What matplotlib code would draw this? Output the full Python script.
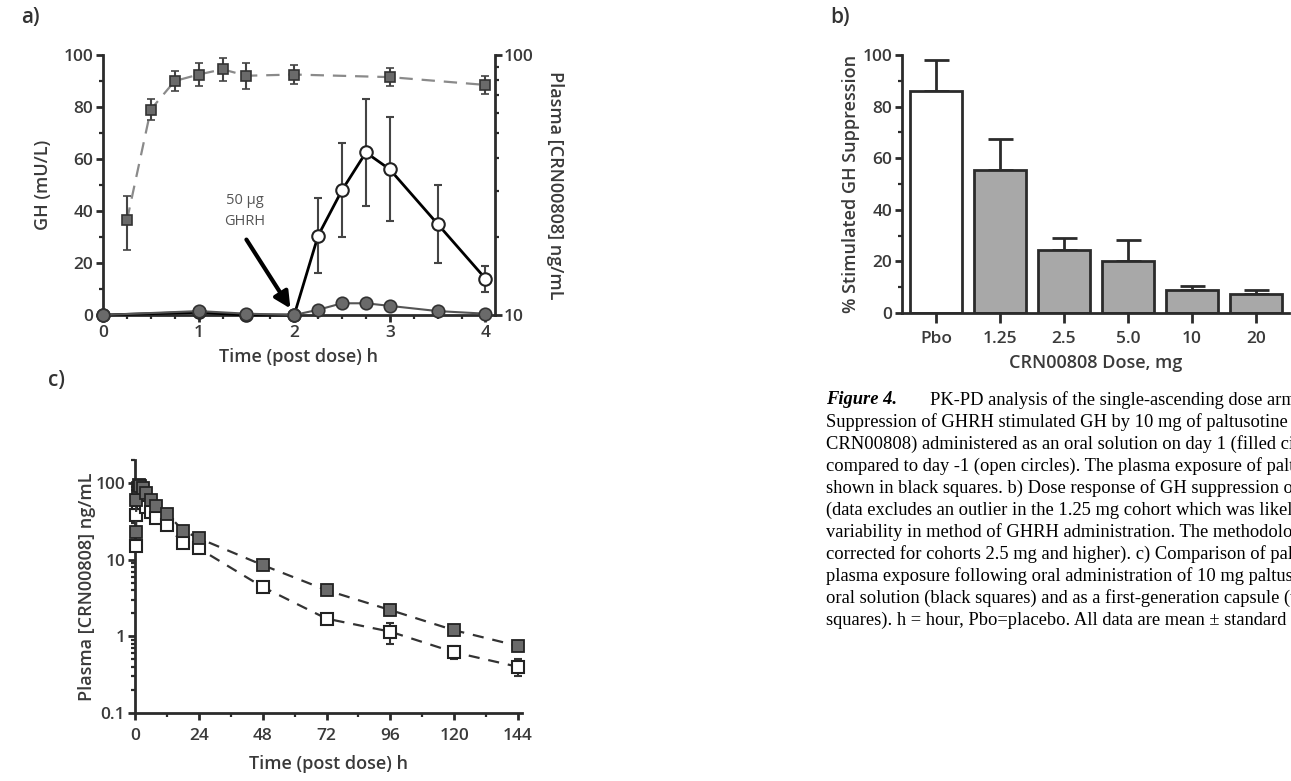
import numpy as np
import matplotlib
matplotlib.use('Agg')
import matplotlib.pyplot as plt
from matplotlib.ticker import MultipleLocator, LogLocator, NullFormatter

plt.rcParams['font.family'] = ['Open Sans', 'DejaVu Sans']

# ---- a) GH and plasma vs time ----
t_plasma = [0.25, 0.5, 0.75, 1, 1.25, 1.5, 2, 3, 4]
plasma_a = [23.1, 61.7, 79.4, 84.1, 88.1, 83.2, 84.1, 82.2, 76.7]
plasma_a_lo = [17.8, 56.2, 72.4, 75.9, 79.4, 74.1, 77.6, 75.9, 70.8]
plasma_a_hi = [28.8, 67.6, 87.1, 93.3, 97.7, 93.3, 91.2, 89.1, 83.2]

t_gh = [0, 1, 1.5, 2, 2.25, 2.5, 2.75, 3, 3.5, 4]
gh_day_m1 = [0, 1, 0, 0, 30.5, 48, 62.5, 56, 35, 14]
gh_day_m1_err = [0, 0, 0, 0, 14.5, 18, 20.5, 20, 15, 5]
gh_day1 = [0, 1.5, 0.5, 0, 2, 4.5, 4.5, 3.5, 1.5, 0.5]

# ---- b) dose response ----
doses = ['Pbo', '1.25', '2.5', '5.0', '10', '20']
suppression = [86, 55.5, 24.3, 20, 9, 7.2]
suppression_err = [12, 12, 4.7, 8.3, 1.5, 1.8]

# ---- c) solution vs capsule ----
t_c = [0.25, 0.5, 1, 1.5, 2, 3, 4, 6, 8, 12, 18, 24, 48, 72, 96, 120, 144]
solution = [23, 60, 85, 95, 92, 85, 75, 60, 50, 40, 24, 19, 8.5, 4.0, 2.2, 1.2, 0.75]
solution_err = [3, 6, 8, 8, 8, 7, 6, 5, 4, 3, 2, 1.5, 0.8, 0.4, 0.3, 0.15, 0.1]
capsule = [15, 38, 55, 62, 60, 55, 48, 42, 35, 28, 16.5, 14, 4.4, 1.7, 1.15, 0.62, 0.4]
capsule_err = [2, 4, 5, 5, 5, 5, 4, 4, 3, 2.5, 1.5, 1.2, 0.6, 0.2, 0.35, 0.12, 0.1]

ink = '#2b2b2b'
txt = '#3a3a3a'
TICK_FS = 12.5
LAB_FS = 13

fig = plt.figure(figsize=(12.91, 7.81), dpi=100)


def style_axes(ax):
    for s in ['top', 'right']:
        ax.spines[s].set_visible(False)
    for s in ['left', 'bottom']:
        ax.spines[s].set_linewidth(2)
        ax.spines[s].set_color(ink)
    ax.tick_params(which='major', direction='out', length=5, width=2, color=ink,
                   labelsize=TICK_FS, labelcolor=txt, pad=2)
    ax.tick_params(which='minor', direction='out', length=3, width=1.6, color=ink)
    for lab in ax.get_xticklabels() + ax.get_yticklabels():
        lab.set_fontweight('semibold')


# panel a
axa = fig.add_axes([0.0798, 0.5967, 0.3036, 0.3329])
axa.set_xlim(0, 4.1)
axa.set_ylim(0, 100)
axa.xaxis.set_major_locator(MultipleLocator(1))
axa.xaxis.set_minor_locator(MultipleLocator(0.25))
axa.yaxis.set_major_locator(MultipleLocator(20))
axa.yaxis.set_minor_locator(MultipleLocator(10))
style_axes(axa)
axa.set_xlabel('Time (post dose) h', fontsize=LAB_FS, color=txt, labelpad=5,
               fontweight='semibold')
axa.set_ylabel('GH (mU/L)', fontsize=LAB_FS, color=txt, labelpad=8,
               fontweight='semibold')

axr = axa.twinx()
axr.set_yscale('log')
axr.set_ylim(10, 100)
axr.set_xlim(0, 4.1)
for s in ['top', 'left', 'bottom']:
    axr.spines[s].set_visible(False)
axr.spines['right'].set_linewidth(2)
axr.spines['right'].set_color(ink)
axr.set_yticks([10, 100])
axr.set_yticklabels(['10', '100'], fontweight='semibold')
axr.yaxis.set_minor_locator(LogLocator(base=10, subs=np.arange(2, 10)))
axr.yaxis.set_minor_formatter(NullFormatter())
axr.tick_params(which='major', direction='out', length=5, width=2, color=ink,
                labelsize=TICK_FS, labelcolor=txt, pad=1)
axr.tick_params(which='minor', direction='out', length=3, width=1.6, color=ink)
axr.set_ylabel('Plasma [CRN00808] ng/mL', fontsize=LAB_FS, color=txt,
               rotation=270, labelpad=22, fontweight='semibold')

yerr_pl = [np.array(plasma_a) - np.array(plasma_a_lo), np.array(plasma_a_hi) - np.array(plasma_a)]
axr.errorbar(t_plasma, plasma_a, yerr=yerr_pl, fmt='s', color='#777777', ms=7,
             mfc='#6a6a6a', mec='#333333', mew=1.2, ecolor='#444444', elinewidth=1.5,
             capsize=3, capthick=1.5, zorder=3)
axr.plot(t_plasma, plasma_a, ls=(0, (6, 4)), color='#8a8a8a', lw=1.6, zorder=2)

axa.set_zorder(axr.get_zorder() + 1)
axa.patch.set_visible(False)
axa.errorbar(t_gh, gh_day_m1, yerr=gh_day_m1_err, fmt='o-', color='black', lw=2,
             ms=9, mfc='white', mec='#222222', mew=1.5, ecolor='#444444',
             elinewidth=1.5, capsize=3, capthick=1.5, zorder=3, clip_on=False)
axa.plot(t_gh, gh_day1, 'o-', color='#555555', lw=1.5, ms=9, mfc='#6a6a6a',
         mec='#333333', mew=1.2, zorder=4, clip_on=False)
axa.text(1.48, 40, '50 µg\nGHRH', ha='center', va='center', fontsize=10.5,
         color='#555555', linespacing=1.5)
axa.annotate('', xy=(1.96, 2.5), xytext=(1.5, 29),
             arrowprops=dict(arrowstyle='-|>', color='black', lw=3,
                             mutation_scale=24, shrinkA=0, shrinkB=0))
fig.text(0.016, 0.978, 'a)', fontsize=15, fontweight='semibold', color='#333333', va='center')

# panel b
axb = fig.add_axes([0.6987, 0.5992, 0.2999, 0.3303])
xb = np.arange(len(doses))
bar_colors = ['white'] + ['#a8a8a8'] * (len(doses) - 1)
axb.bar(xb, suppression, width=0.81, color=bar_colors, edgecolor=ink, linewidth=2,
        zorder=2)
axb.errorbar(xb, suppression, yerr=[np.zeros(len(doses)), suppression_err], fmt='none',
             ecolor=ink, elinewidth=2, capsize=9, capthick=2, zorder=1)
axb.set_xlim(-0.53, 5.52)
axb.set_ylim(0, 100)
axb.set_xticks(xb)
axb.set_xticklabels(doses)
axb.yaxis.set_major_locator(MultipleLocator(20))
axb.yaxis.set_minor_locator(MultipleLocator(10))
style_axes(axb)
axb.tick_params(axis='x', length=7, pad=6)
axb.set_xlabel('CRN00808 Dose, mg', fontsize=LAB_FS, color=txt, labelpad=5,
               fontweight='semibold')
axb.set_ylabel('% Stimulated GH Suppression', fontsize=LAB_FS, color=txt, labelpad=2,
               fontweight='semibold')
fig.text(0.643, 0.978, 'b)', fontsize=15, fontweight='semibold', color='#333333', va='center')

# panel c
axc = fig.add_axes([0.1046, 0.0871, 0.2997, 0.324])
axc.set_yscale('log')
axc.set_ylim(0.1, 200)
axc.set_xlim(0, 145.5)
axc.set_xticks([0, 24, 48, 72, 96, 120, 144])
axc.xaxis.set_minor_locator(MultipleLocator(12))
axc.set_yticks([0.1, 1, 10, 100])
axc.set_yticklabels(['0.1', '1', '10', '100'])
axc.yaxis.set_minor_locator(LogLocator(base=10, subs=np.arange(2, 10)))
axc.yaxis.set_minor_formatter(NullFormatter())
style_axes(axc)
axc.tick_params(axis='x', pad=6)
axc.set_xlabel('Time (post dose) h', fontsize=LAB_FS, color=txt, labelpad=8,
               fontweight='semibold')
axc.set_ylabel('Plasma [CRN00808] ng/mL', fontsize=LAB_FS, color=txt, labelpad=0,
               fontweight='semibold')
axc.errorbar(t_c, capsule, yerr=capsule_err, fmt='s', ls=(0, (5, 4)), color='#333333',
             lw=1.6, ms=8, mfc='white', mec='#222222', mew=1.5, ecolor='#333333',
             elinewidth=1.5, capsize=3, zorder=3, clip_on=False)
axc.errorbar(t_c, solution, yerr=solution_err, fmt='s', ls=(0, (5, 4)), color='#333333',
             lw=1.6, ms=8, mfc='#6a6a6a', mec='#222222', mew=1.3, ecolor='#333333',
             elinewidth=1.5, capsize=3, zorder=4, clip_on=False)
fig.text(0.037, 0.513, 'c)', fontsize=15, fontweight='semibold', color='#333333', va='center')

# caption
cap_x = 826 / 1291
line_h = 22 / 781
y0 = 1 - 400 / 781
CAP_FS = 13.3
fig.text(cap_x, y0, 'Figure 4.', fontsize=CAP_FS, fontstyle='italic', fontweight='bold',
         family='Liberation Serif', va='center')
fig.text(930 / 1291, y0, 'PK-PD analysis of the single-ascending dose arm. a)',
         fontsize=CAP_FS, family='Liberation Serif', va='center')
caption_lines = [
    'Suppression of GHRH stimulated GH by 10 mg of paltusotine (formerly',
    'CRN00808) administered as an oral solution on day 1 (filled circles)',
    'compared to day -1 (open circles). The plasma exposure of paltusotine is',
    'shown in black squares. b) Dose response of GH suppression on day 1',
    '(data excludes an outlier in the 1.25 mg cohort which was likely due to',
    'variability in method of GHRH administration. The methodology was',
    'corrected for cohorts 2.5 mg and higher). c) Comparison of paltusotine',
    'plasma exposure following oral administration of 10 mg paltusotine as an',
    'oral solution (black squares) and as a first-generation capsule (white',
    'squares). h = hour, Pbo=placebo. All data are mean ± standard error.',
]
for i, line in enumerate(caption_lines):
    fig.text(cap_x, y0 - (i + 1) * line_h, line, fontsize=CAP_FS,
             family='Liberation Serif', va='center')

fig.savefig('out.png', dpi=100)
